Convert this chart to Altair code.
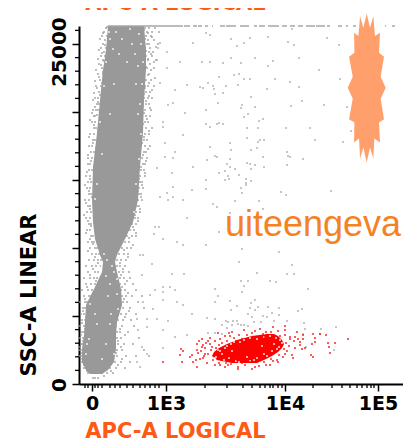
import altair as alt
import pandas as pd

X_TICKS = [0, 74, 193, 286]
X_TICK_TEXT = ["0", "1E3", "1E4", "1E5"]
X_MINOR = [-7, -4, 3, 6, 10, 18, 23, 28, 35, 41, 48, 53, 58, 63, 67, 113, 135, 151, 160, 168,
           173, 178, 181, 186, 190, 221, 240, 250, 258, 265, 270, 275, 279, 282]
Y_TICKS = [0, 68, 136, 204, 272, 340]
Y_MINOR = [13.6, 27.2, 40.8, 54.4, 81.6, 95.2, 108.8, 122.4, 149.6, 163.2, 176.8, 190.4,
           217.6, 231.2, 244.8, 258.4, 285.6, 299.2, 312.8, 326.4, 353.6]
Y_LABELS = ["0", "25000"]
Y_LABEL_POS = [-1, 332]

BODY_Y = [10, 14, 22, 35, 49, 62, 79, 95, 112, 122, 129, 145, 162, 184, 217, 251, 284, 314, 334, 358]
BODY_L = [-2, -6, -10, -10, -8, -7, -6, 2, 10, 11, 8, 3, 1, 0, 1, 5, 8, 11, 14, 16]
BODY_R = [10, 16, 22, 24, 24, 25, 30, 29, 25, 23, 25, 33, 41, 46, 48, 51, 52, 54, 54, 52]

RED_Y = [21, 24, 28, 32, 36, 40, 44, 48, 50]
RED_L = [140, 125, 120, 122, 127, 135, 145, 160, 175]
RED_R = [165, 172, 180, 186, 190, 192, 190, 186, 182]

EDGE_ROWS = [
    (356, [14, 17, 20, 50, 53, 57, 63]), (352, [12, 18, 51, 55, 60, 67]), (348, [10, 15, 19, 50, 54, 59]),
    (344, [13, 17, 52, 56, 62]), (340, [11, 16, 20, 50, 55, 66]), (336, [9, 14, 18, 51, 53, 58]),
    (332, [12, 16, 52, 57, 61]), (328, [9, 13, 19, 50, 54, 60]), (324, [11, 15, 51, 56, 64]),
    (320, [7, 13, 17, 52, 58]), (316, [10, 14, 53, 55, 62]), (310, [6, 11, 15, 52, 57]),
    (304, [8, 12, 54, 59]), (298, [4, 9, 13, 53, 56, 62]), (292, [7, 11, 54, 58]),
    (286, [3, 6, 52, 56, 60]), (280, [5, 7, 54, 57]), (274, [1, 4, 6, 53, 59]),
    (268, [3, 2, 54, 58]), (262, [0, 3, 53, 56]), (256, [2, 4, 54, 60]), (250, [-2, 2, 53, 57]),
    (244, [1, 3, 52, 55]), (238, [-3, 0, 53, 58]), (232, [-1, 2, 52, 54]), (226, [-4, 0, 50, 55]),
    (220, [-2, -4, 51, 53]), (214, [-3, 0, 49, 52]), (208, [-6, -2, 48, 53]), (202, [-4, -1, 48, 50]),
    (196, [-5, -2, 47, 51]), (190, [-3, -1, 47, 49]), (184, [-7, -3, 46, 50]), (178, [-4, -2, 45, 47]),
    (172, [-5, -1, 44, 48]), (166, [-6, -2, 43, 46]), (160, [-3, -1, 40, 44]), (154, [-5, -2, 38, 42]),
    (148, [-1, 1, 35, 40, 44]), (142, [-4, 0, 2, 33, 37]), (136, [-2, 3, 5, 30, 35, 39]),
    (130, [0, 4, 7, 27, 32, 36]), (124, [-3, 2, 6, 9, 25, 29, 34]), (118, [-6, 0, 4, 8, 25, 28, 33]),
    (112, [-4, 3, 6, 27, 31, 37]), (106, [-8, -2, 2, 5, 28, 32, 38]), (100, [-6, -1, 3, 28, 33, 41]),
    (94, [-10, -4, 0, 29, 33, 44]), (88, [-8, -3, -1, 30, 34, 40, 50]), (82, [-12, -7, -5, 31, 35, 46]),
    (76, [-9, -7, 31, 38, 52]), (70, [-11, -8, 29, 34, 44]), (64, [-10, -7, 26, 31, 39]),
    (58, [-12, -8, 24, 30, 42]), (52, [-10, -8, 25, 28, 36]), (46, [-12, -9, 25, 29, 47]),
    (40, [-11, -10, 26, 32, 41]), (34, [-13, -11, 25, 30, 52]), (28, [-12, -10, 25, 34, 44, 57]),
    (22, [-11, -9, 23, 29, 38]), (16, [-8, -6, 18, 24, 33]), (11, [-4, -1, 10, 15, 21]), (6, [1, 3, 6]),
]
EDGE_LEFT = [
    (15, 357), (19, 354), (11, 351), (22, 349), (16, 346), (8, 345), (20, 342), (13, 339), (18, 337), (7, 334),
    (15, 333), (10, 331), (21, 329), (17, 326), (6, 325), (12, 323), (19, 321), (9, 319), (15, 317), (4, 314),
    (11, 312), (18, 309), (7, 307), (13, 305), (3, 303), (10, 301), (16, 299), (5, 296), (12, 294), (2, 291),
    (8, 289), (14, 287), (1, 284), (6, 282), (11, 279), (3, 277), (0, 271), (5, 269), (8, 266), (-2, 264),
    (2, 259), (6, 254), (-3, 247), (1, 241), (4, 236), (-4, 229), (-1, 223), (2, 218), (-5, 212), (-2, 205),
    (-7, 199), (-3, 193), (0, 187), (-6, 181), (-2, 175), (-8, 169), (-4, 163), (-1, 158), (-6, 151), (-2, 145),
    (1, 140), (-4, 133), (3, 127), (6, 121), (1, 115), (-2, 109), (4, 103), (-5, 97), (1, 91), (-7, 85), (-3, 79),
    (-9, 73), (-6, 67), (-10, 61), (-7, 55), (-11, 49), (-9, 43), (-12, 37), (-10, 31), (-11, 25), (-8, 19), (-5, 13),
]
EDGE_RIGHT = [
    (49, 357), (52, 354), (56, 351), (48, 349), (60, 347), (53, 345), (50, 342), (57, 340), (64, 337), (49, 335),
    (54, 333), (59, 330), (51, 327), (56, 325), (62, 322), (50, 319), (54, 317), (59, 314), (51, 312), (56, 309),
    (63, 306), (52, 303), (57, 301), (53, 296), (60, 294), (52, 290), (57, 288), (54, 283), (51, 278), (58, 276),
    (52, 271), (55, 265), (51, 260), (57, 253), (52, 247), (50, 241), (56, 235), (51, 229), (54, 223), (49, 217),
    (53, 211), (47, 205), (50, 199), (46, 193), (49, 187), (44, 181), (48, 175), (43, 169), (46, 163), (41, 157),
    (44, 151), (37, 146), (41, 139), (32, 134), (36, 127), (28, 121), (31, 115), (29, 109), (35, 103), (30, 97),
    (36, 91), (32, 85), (29, 79), (37, 73), (33, 67), (24, 61), (28, 55), (33, 49), (26, 43), (29, 37), (24, 31),
    (30, 25), (26, 19), (19, 13), (12, 8),
]

HOLES = [(27, 330), (30, 345), (44, 300), (46, 318), (22, 300), (40, 340), (35, 322), (18, 270), (49, 250),
         (10, 230), (5, 200), (44, 200), (15, 124), (20, 118), (14, 108), (18, 100), (22, 112), (12, 130),
         (25, 90), (5, 60), (-2, 80), (3, 70), (18, 60), (14, 40), (-5, 40), (10, 25), (47, 350), (24, 352),
         (43, 330), (38, 355), (48, 280), (46, 270), (47, 225), (-3, 45), (19, 70), (25, 105),
         (18, 345), (21, 335), (17, 352), (49, 340), (51, 322), (14, 322), (12, 298), (50, 300), (8, 262),
         (3, 185), (42, 172), (7, 118), (16, 88), (26, 75), (-6, 30), (22, 30)]

SPARSE = [
    (114, 351), (118, 349), (139, 345), (152, 341), (145, 338), (158, 346), (176, 347), (196, 342), (202, 339),
    (235, 346), (247, 339), (200, 355), (118, 322), (131, 321), (139, 326), (149, 321), (163, 326), (176, 318),
    (181, 323), (207, 326), (227, 314), (127, 307), (142, 309), (147, 310), (152, 305), (158, 305), (183, 305),
    (198, 302), (248, 305), (116, 301), (121, 298), (122, 295), (134, 298), (146, 299), (175, 295), (207, 297),
    (123, 290), (131, 291), (159, 287), (210, 283), (126, 281), (150, 279), (149, 276), (163, 277), (199, 278),
    (232, 279), (255, 277), (114, 274), (156, 270), (152, 267), (167, 263), (171, 265), (114, 260), (118, 257),
    (125, 260), (127, 261), (131, 260), (155, 256), (166, 256), (194, 256), (218, 256), (259, 253), (155, 246),
    (166, 242), (168, 244), (172, 244), (223, 244), (251, 242), (118, 237), (138, 241), (139, 234), (159, 234),
    (165, 236), (195, 232), (123, 228), (125, 227), (138, 225), (171, 227), (196, 228), (198, 227), (211, 225),
    (115, 224), (135, 220), (155, 221), (158, 220), (163, 219), (172, 217), (195, 219), (138, 217), (143, 215),
    (159, 215), (127, 211), (133, 213), (147, 209), (136, 208), (133, 204), (137, 205), (159, 203), (154, 205),
    (154, 201), (149, 196), (150, 191), (154, 199), (189, 192), (194, 189), (239, 193), (114, 204), (114, 195),
    (143, 183), (167, 183), (121, 180), (125, 177), (138, 171), (171, 175),
    (127, 152), (114, 139), (150, 135), (187, 132), (147, 122), (200, 119), (165, 111), (195, 110), (202, 110),
    (149, 103), (156, 103), (178, 103), (184, 102), (152, 98), (216, 95), (123, 95), (150, 92), (126, 88),
    (123, 82), (138, 83), (159, 81), (163, 84), (166, 77), (176, 77), (158, 76), (145, 78), (139, 74), (210, 75),
    (187, 76), (206, 73), (163, 74), (156, 70), (160, 67), (171, 68), (175, 67), (180, 71), (187, 69), (115, 66),
    (123, 65), (182, 63), (195, 63), (134, 63), (136, 62), (141, 63), (145, 63), (130, 59), (140, 59), (146, 60),
    (149, 59), (152, 59), (156, 58), (212, 61), (169, 62), (162, 62), (123, 51), (116, 51), (130, 50), (135, 56),
    (213, 55), (229, 55), (244, 57), (211, 50), (228, 50), (242, 34), (214, 37),
    (63, 157), (67, 157), (62, 150), (71, 145), (91, 139), (85, 142), (51, 129), (60, 120), (80, 110), (92, 110),
    (48, 129), (50, 109), (71, 97), (63, 94), (58, 89), (83, 94), (71, 92), (78, 97), (91, 79), (85, 82), (51, 82),
    (61, 75), (55, 65), (65, 65), (45, 65), (71, 84), (76, 63), (46, 54), (55, 57), (71, 54), (50, 37), (71, 36),
    (55, 30), (45, 22), (48, 17), (83, 47), (100, 70), (95, 49),
    (66, 336), (75, 332), (65, 324), (68, 341), (75, 316), (68, 301), (83, 294), (81, 281), (76, 279), (93, 271),
    (71, 262), (71, 257), (91, 249), (73, 241), (83, 232), (73, 227), (81, 226), (101, 217), (80, 211), (65, 216),
    (81, 197), (75, 191), (68, 187), (91, 184), (100, 194), (81, 187), (76, 184), (95, 166), (111, 296), (101, 341),
    (88, 322), (110, 322), (108, 297), (95, 299),
]

RED_OUT = [
    (71, 22), (89, 35), (91, 33), (88, 29), (90, 22), (100, 29), (105, 40), (110, 45), (105, 34), (101, 22),
    (105, 17), (111, 39), (113, 30), (108, 25), (98, 27),
    (256, 45), (243, 41), (236, 41), (237, 37), (238, 31), (234, 49), (228, 50), (223, 46), (223, 42), (220, 40),
    (213, 36), (208, 39), (210, 35), (221, 27), (219, 29), (201, 26), (193, 58), (193, 54), (205, 52), (203, 47),
    (211, 49), (211, 45), (198, 45), (206, 45), (221, 50), (178, 19), (163, 17), (146, 17), (136, 19), (128, 19),
    (123, 19), (185, 24), (193, 30),
]
RED_NEAR = [
    (118, 46), (126, 51), (133, 48), (140, 52), (147, 49), (152, 54), (160, 51), (168, 55), (174, 52), (181, 57),
    (186, 53), (193, 49), (198, 47), (202, 43), (197, 38), (203, 36), (208, 42), (195, 33), (200, 29), (191, 27),
    (186, 22), (179, 25), (174, 19), (167, 18), (160, 15), (153, 19), (146, 15), (139, 20), (133, 17), (127, 21),
    (121, 24), (115, 21), (111, 26), (116, 30), (109, 33), (113, 36), (118, 40), (123, 43), (128, 45), (135, 43),
    (142, 46), (119, 34), (112, 28), (125, 31), (137, 51), (150, 45), (173, 47), (185, 42), (178, 30), (168, 25),
    (158, 22), (145, 24), (132, 26), (124, 36), (130, 41), (120, 37), (116, 43), (122, 28), (127, 39), (138, 48),
    (144, 43), (155, 49), (163, 53), (171, 50), (179, 52), (188, 48), (194, 41), (192, 35), (187, 29), (181, 23),
    (172, 22), (150, 21), (141, 23), (134, 21), (129, 24), (106, 31), (104, 24), (110, 37), (114, 41), (107, 43),
]
RED_HOLES = [(130, 30), (126, 34), (135, 38), (142, 42), (152, 44), (165, 45), (178, 48), (188, 44), (185, 35),
             (175, 28), (162, 24), (147, 22), (132, 24), (124, 27), (140, 33), (170, 38), (182, 40), (155, 27),
             (123, 26), (128, 33), (133, 36), (139, 40), (148, 42), (158, 46), (172, 47), (184, 46), (190, 41),
             (187, 37), (180, 33), (172, 30), (165, 26), (158, 23), (144, 23), (137, 26)]

TOP_RUNS = [(16, 91), (92, 98), (101, 105), (106, 110), (113, 116), (120, 121), (128, 133), (134, 144), (148, 157),
            (162, 165), (167, 173), (176, 187), (190, 195), (198, 203), (206, 211), (214, 223), (224, 233),
            (235, 238), (246, 250), (254, 256), (261, 264), (293, 294), (300, 303)]

STAR_ZX = [485, 495, 505, 510, 525, 522, 537, 527, 542, 527, 537, 522, 525, 508, 505, 495, 485,
           475, 465, 462, 447, 448, 432, 443, 428, 443, 432, 448, 447, 460, 465, 475]
STAR_ZY = [42, 85, 50, 110, 100, 160, 172, 232, 265, 298, 360, 370, 430, 418, 478, 445, 490,
           445, 478, 418, 430, 370, 360, 298, 265, 232, 172, 160, 100, 110, 50, 85]

XS = alt.Scale(domain=[-13, 311], nice=False, zero=False)
YS = alt.Scale(domain=[0, 358], nice=False, zero=False)
label_expr = "{" + ",".join(f"'{v}':'{t}'" for v, t in zip(X_TICKS, X_TICK_TEXT)) + "}[datum.value]"
XAX = alt.Axis(values=X_TICKS, labelExpr=label_expr, title=None, grid=False, tickSize=7, tickWidth=1.5,
               tickColor="black", domainColor="black", domainWidth=2, labelFont="DejaVu Sans", labelFontWeight="bold",
               labelFontSize=19, labelColor="black", labelPadding=3, labelOverlap=False, labelFlush=False)
YAX = alt.Axis(values=Y_TICKS, labels=False, title=None, grid=False, tickSize=7, tickWidth=1.5,
               tickColor="black", domainColor="black", domainWidth=2)


def X(f):
    return alt.X(f, type="quantitative", scale=XS, axis=XAX)


def Y(f):
    return alt.Y(f, type="quantitative", scale=YS, axis=YAX)


def pts(items, color, size=3):
    df = pd.DataFrame(items, columns=["x", "y"])
    return alt.Chart(df).mark_square(size=size, color=color, opacity=1, stroke=None).encode(x=X("x"), y=Y("y"))


edge = [(x, y) for y, xs in EDGE_ROWS for x in xs] + EDGE_LEFT + EDGE_RIGHT
red_pts = RED_OUT + RED_NEAR

body = alt.Chart(pd.DataFrame({"y": BODY_Y, "l": BODY_L, "r": BODY_R})).mark_area(
    orient="horizontal", color="#999999").encode(y=Y("y"), x=X("l"), x2=alt.X2("r"))
red_core = alt.Chart(pd.DataFrame({"y": RED_Y, "l": RED_L, "r": RED_R})).mark_area(
    orient="horizontal", color="#ff0000").encode(y=Y("y"), x=X("l"), x2=alt.X2("r"))

top = alt.Chart(pd.DataFrame(TOP_RUNS, columns=["a", "b"]).assign(y=358)).mark_rule(
    color="#a6a6a6", strokeWidth=1.5).encode(x=X("a"), x2=alt.X2("b"), y=Y("y"))

x_minor = alt.Chart(pd.DataFrame({"x": X_MINOR})).mark_rule(color="black", strokeWidth=1.3, clip=False).encode(
    x=X("x"), y=alt.value(358), y2=alt.value(362))
y_minor = alt.Chart(pd.DataFrame({"y": Y_MINOR})).mark_rule(color="black", strokeWidth=1.3, clip=False).encode(
    y=Y("y"), x=alt.value(-4), x2=alt.value(0))

star_path = " ".join(("M" if i == 0 else "L") + f"{(zx - 485) / 224:.4f},{(zy - 266) / 224:.4f}"
                     for i, (zx, zy) in enumerate(zip(STAR_ZX, STAR_ZY))) + " Z"
star = alt.Chart(pd.DataFrame({"x": [274.7], "y": [296]})).mark_point(
    shape=star_path, size=149 ** 2, filled=True, color="#FFA06C", opacity=1, stroke=None).encode(x=X("x"), y=Y("y"))

word = alt.Chart(pd.DataFrame({"x": [221], "y": [148], "t": ["uiteengeva"]})).mark_text(
    font="Liberation Sans", fontSize=36, color="#F5821F", align="center", baseline="alphabetic"
).encode(x=X("x"), y=Y("y"), text="t:N")

y_labels = alt.Chart(pd.DataFrame({"y": Y_LABEL_POS, "t": Y_LABELS})).mark_text(
    font="DejaVu Sans", fontWeight="bold", fontSize=20, angle=270, align="center", baseline="middle",
    color="black", clip=False
).encode(y=Y("y"), x=alt.value(-19), text="t:N")


def title(text, color, x, y, angle=0):
    return alt.Chart(pd.DataFrame({"t": [text]})).mark_text(
        font="DejaVu Sans", fontWeight="bold", fontSize=21, angle=angle, align="center", baseline="middle",
        color=color).encode(x=alt.value(x), y=alt.value(y), text="t:N")


chart = alt.layer(
    body, pts(edge, "#999999"), pts(HOLES, "#ffffff"), top, pts(SPARSE, "#a8a8a8"),
    red_core, pts(RED_HOLES, "#ffffff"), pts(red_pts, "#ff0000"), star, word, x_minor, y_minor, y_labels,
    title("SSC-A LINEAR", "black", -49, 269, 270),
    title("APC-A LOGICAL", "#FF5A14", 96.5, 406),
    title("APC-A LOGICAL", "#FF5A14", 96.5, -22),
).properties(
    width=324, height=358,
    autosize=alt.AutoSizeParams(type="none"),
    padding={"left": 71, "top": 18, "right": 0, "bottom": 60},
).configure_view(stroke=None)

chart.save("out.html", embed_options={"renderer": "svg", "actions": False})
